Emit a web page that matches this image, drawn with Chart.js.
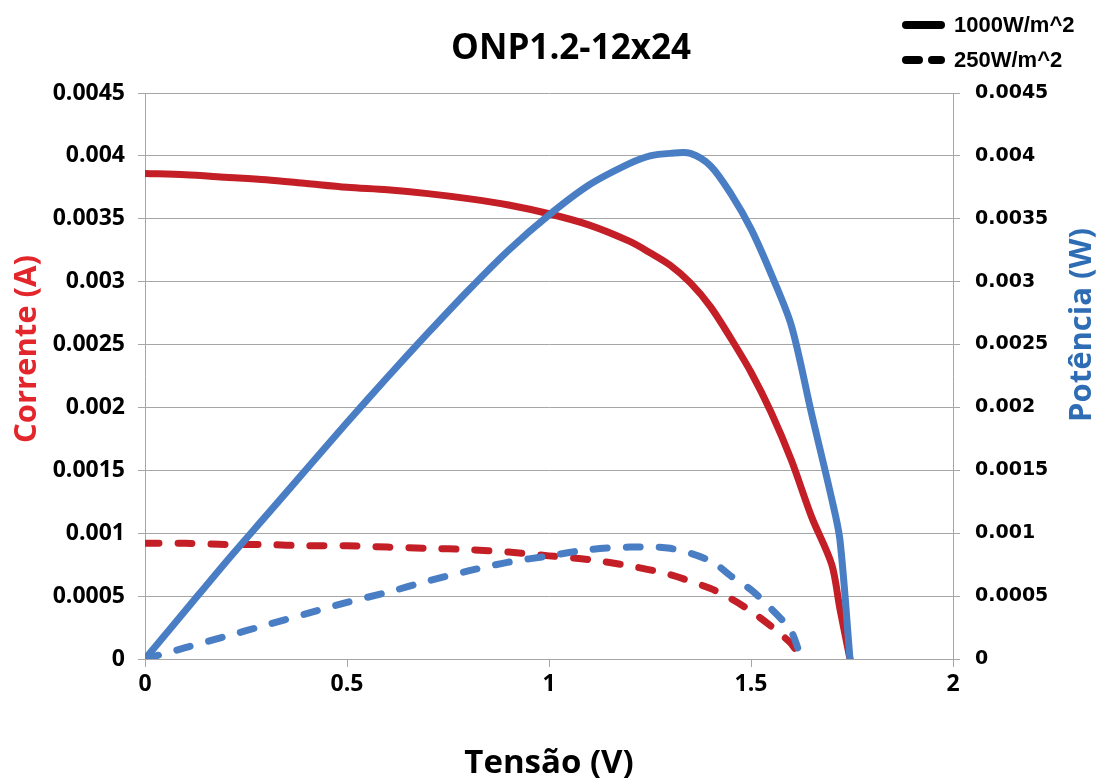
<!DOCTYPE html>
<html>
<head>
<meta charset="utf-8">
<script src="https://cdn.jsdelivr.net/npm/chart.js@4.4.1/dist/chart.umd.min.js"></script>
<style>
  body { margin: 0; background: #fff; }
  #wrap { width: 1100px; height: 778px; }
</style>
</head>
<body>
<div id="wrap"><canvas id="chart" width="1100" height="778"></canvas></div>
<script>
// 1000 W/m^2 curves
var voltage1000 = [0, 0.1, 0.2, 0.3, 0.4, 0.5, 0.6, 0.7, 0.8, 0.9, 1.0, 1.1, 1.2, 1.25, 1.3, 1.35, 1.4, 1.45, 1.5, 1.55, 1.6, 1.65, 1.7, 1.72, 1.745];
var current1000 = [0.00386, 0.00385, 0.00383, 0.00381, 0.00378, 0.00375, 0.00373, 0.0037, 0.00366, 0.00361, 0.00354, 0.00345, 0.00332, 0.00323, 0.00313, 0.00299, 0.0028, 0.00255, 0.00228, 0.00196, 0.00158, 0.00113, 0.00075, 0.0004, 0];
var power1000 = [0, 0.000385, 0.00077, 0.00114, 0.00151, 0.00188, 0.00224, 0.00259, 0.00293, 0.00325, 0.00353, 0.00377, 0.00394, 0.004, 0.00402, 0.00402, 0.00392, 0.0037, 0.00342, 0.00306, 0.00265, 0.00195, 0.00127, 0.00095, 0];

// 250 W/m^2 curves
var voltage250 = [0, 0.1, 0.2, 0.3, 0.4, 0.5, 0.6, 0.7, 0.8, 0.9, 1.0, 1.1, 1.2, 1.3, 1.4, 1.45, 1.5, 1.55, 1.58, 1.6, 1.625];
var current250 = [0.00092, 0.00092, 0.00091, 0.00091, 0.0009, 0.0009, 0.00089, 0.00088, 0.00087, 0.00085, 0.00082, 0.00079, 0.00074, 0.00067, 0.00056, 0.00048, 0.00038, 0.00026, 0.00018, 0.00012, 0];
var power250 = [0, 0.00009, 0.00018, 0.00027, 0.00036, 0.00045, 0.00053, 0.00062, 0.0007, 0.00077, 0.00082, 0.00087, 0.00089, 0.00088, 0.00078, 0.00066, 0.00055, 0.0004, 0.0003, 0.00022, 0];

var xTicks = [0, 0.5, 1, 1.5, 2];
var yTicks = [0, 0.0005, 0.001, 0.0015, 0.002, 0.0025, 0.003, 0.0035, 0.004, 0.0045];

var chartTitle = "ONP1.2-12x24";
var legendLabels = ["1000W/m^2", "250W/m^2"];

var red = "#c41e26";
var blue = "#4a7ec4";
var gridColor = "#a6a6a6";

function pts(xs, ys) {
    var out = [];
    for (var i = 0; i < xs.length; i++) {
        out.push({ x: xs[i], y: ys[i] });
    }
    return out;
}

// title, legend and rotated axis titles
var extras = {
    id: "extras",
    afterDraw: function(chart) {
        var ctx = chart.ctx;
        ctx.save();

        ctx.fillStyle = "#000";
        ctx.font = "bold 35px 'Open Sans', sans-serif";
        ctx.textAlign = "center";
        ctx.textBaseline = "middle";
        ctx.fillText(chartTitle, 571, 49);

        ctx.strokeStyle = "#000";
        ctx.lineWidth = 8;
        ctx.lineCap = "round";
        ctx.beginPath();
        ctx.moveTo(906, 25);
        ctx.lineTo(941, 25);
        ctx.stroke();
        ctx.setLineDash([13, 13]);
        ctx.beginPath();
        ctx.moveTo(906, 60);
        ctx.lineTo(941, 60);
        ctx.stroke();
        ctx.setLineDash([]);

        ctx.font = "bold 22px 'Liberation Sans', Arial, sans-serif";
        ctx.textAlign = "left";
        ctx.fillText(legendLabels[0], 954, 26);
        ctx.fillText(legendLabels[1], 954, 61);

        ctx.font = "bold 31px 'Open Sans', sans-serif";
        ctx.textAlign = "center";
        ctx.save();
        ctx.translate(27, 349);
        ctx.rotate(-Math.PI / 2);
        ctx.fillStyle = "#e3262b";
        ctx.fillText("Corrente (A)", 0, 0);
        ctx.restore();

        ctx.save();
        ctx.translate(1082, 325);
        ctx.rotate(-Math.PI / 2);
        ctx.fillStyle = "#2e6db4";
        ctx.fillText("Potência (W)", 0, 0);
        ctx.restore();
        ctx.restore();
    }
};

function fmt(v) {
    return String(+v.toFixed(4));
}

function line(label, xs, ys, axis, color, dashed) {
    return {
        label: label,
        data: pts(xs, ys),
        yAxisID: axis,
        borderColor: color,
        borderWidth: 7,
        borderDash: dashed ? [14, 19] : [],
        pointRadius: 0,
        tension: 0.3,
        borderJoinStyle: "round",
        borderCapStyle: "round"
    };
}

var ctx1 = document.getElementById("chart");

var chart1 = new Chart(ctx1, {
    type: "line",
    data: {
        datasets: [
            line("Potência 1000", voltage1000, power1000, "y2", blue, false),
            line("Corrente 1000", voltage1000, current1000, "y", red, false),
            line("Potência 250", voltage250, power250, "y2", blue, true),
            line("Corrente 250", voltage250, current250, "y", red, true)
        ]
    },
    options: {
        responsive: false,
        animation: false,
        layout: { padding: { top: 93 } },
        plugins: {
            legend: { display: false },
            tooltip: { enabled: false },
            title: { display: false }
        },
        scales: {
            x: {
                type: "linear",
                min: 0,
                max: 2,
                afterBuildTicks: function(s) { s.ticks = xTicks.map(function(v) { return { value: v }; }); },
                afterFit: function(s) { s.height = 119; },
                grid: { drawOnChartArea: false, drawTicks: true, tickLength: 8, color: gridColor },
                border: { color: gridColor, width: 1 },
                ticks: {
                    color: "#000",
                    padding: 4,
                    font: { family: "'Open Sans', sans-serif", size: 23, weight: "bold" },
                    callback: function(v) { return fmt(v); }
                },
                title: {
                    display: true,
                    text: "Tensão (V)",
                    color: "#000",
                    font: { family: "'Open Sans', sans-serif", size: 33, weight: "bold", lineHeight: 0.8 },
                    padding: { top: 0, bottom: 1 }
                }
            },
            y: {
                position: "left",
                min: 0,
                max: 0.0045,
                afterBuildTicks: function(s) { s.ticks = yTicks.map(function(v) { return { value: v }; }); },
                afterFit: function(s) { s.width = 145; },
                grid: { color: gridColor, tickLength: 7 },
                border: { color: gridColor, width: 1 },
                ticks: {
                    color: "#000",
                    padding: 13,
                    font: { family: "'Open Sans', sans-serif", size: 23, weight: "bold" },
                    callback: function(v) { return fmt(v); }
                }
            },
            y2: {
                position: "right",
                min: 0,
                max: 0.0045,
                afterBuildTicks: function(s) { s.ticks = yTicks.map(function(v) { return { value: v }; }); },
                afterFit: function(s) { s.width = 147; },
                grid: { drawOnChartArea: false, color: gridColor, tickLength: 7 },
                border: { color: gridColor, width: 1 },
                ticks: {
                    color: "#000",
                    padding: 15,
                    font: { family: "'DejaVu Sans', Verdana, sans-serif", size: 19, weight: "bold" },
                    callback: function(v) { return fmt(v); }
                }
            }
        }
    },
    plugins: [extras]
});
</script>
</body>
</html>
